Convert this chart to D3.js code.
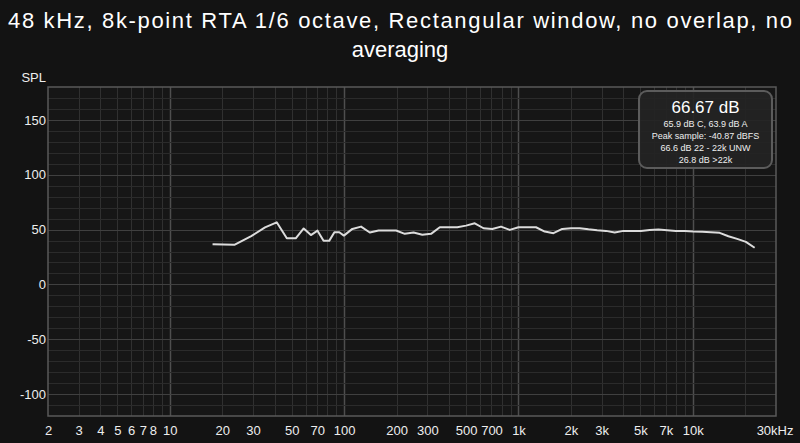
<!DOCTYPE html>
<html><head><meta charset="utf-8">
<script src="https://cdn.jsdelivr.net/npm/d3@7"></script>
<style>html,body{margin:0;padding:0;background:#131313;}svg{display:block;}</style>
</head><body><svg id="c" width="800" height="443"></svg>
<script>
const freqs = [17.58,23.44,29.30,35.16,41.02,46.88,52.73,58.59,64.45,70.31,76.17,82.03,87.89,93.75,99.61,
  111.4,125,140.3,157.5,176.8,198.4,222.7,250,280.6,315,353.6,396.9,445.4,500,561.2,630,707.1,793.7,890.9,
  1000,1122,1260,1414,1587,1782,2000,2245,2520,2828,3175,3564,4000,4490,5040,5657,6350,7127,8000,8980,
  10079,11314,12699,14254,16000,17959,20159,22627];
const spl = [36.6,36.1,44,52,56.6,42,42,51,45,49,39.7,39.7,47.5,47.5,44.5,
  50.6,52.7,47.3,49.1,49.1,49.1,46.1,47.3,45.2,46.1,52.1,52.1,52.1,53.6,55.7,51.2,50.6,52.7,49.7,
  52.1,52.1,52.1,48.2,46.7,50.6,51.2,51.2,50.2,49.4,48.8,47.3,48.8,48.8,48.8,49.7,50,49.4,48.8,48.8,
  48.2,47.9,47.5,47,43.9,41.5,38.8,33.4];
const xTickValues = [2,3,4,5,6,7,8,10,20,30,50,70,100,200,300,500,700,1000,2000,3000,5000,7000,10000,30000];
const xTickLabels = ["2","3","4","5","6","7","8","10","20","30","50","70","100","200","300","500","700","1k","2k","3k","5k","7k","10k","30kHz"];
const yTickValues = [150,100,50,0,-50,-100];
const titleLines = ["48 kHz, 8k-point RTA 1/6 octave, Rectangular window, no overlap, no","averaging"];
const infoLines = ["65.9 dB C, 63.9 dB A","Peak sample: -40.87 dBFS","66.6 dB 22 - 22k UNW","26.8 dB >22k"];
const infoMain = "66.67 dB";

const svg = d3.select("#c");
const font = "'Liberation Sans', Arial, Helvetica, sans-serif";
const L=48, R=776, T=87, B=416;
const x = d3.scaleLog().domain([2,30000]).range([L,R]);
const y = d3.scaleLinear().domain([-120,180]).range([B,T]);

svg.append("rect").attr("width",800).attr("height",443).attr("fill","#131313");
svg.append("rect").attr("x",L).attr("y",T).attr("width",R-L).attr("height",B-T).attr("fill","#161616");

// grid
const minorX = [];
for (let d=1; d<=10000; d*=10) for (let m=1; m<=9; m++) { const v=d*m; if (v>2 && v<30000) minorX.push(v); }
const g = svg.append("g");
g.selectAll(".vx").data(minorX).join("line")
  .attr("x1",d=>Math.round(x(d))+0.5).attr("x2",d=>Math.round(x(d))+0.5).attr("y1",T).attr("y2",B)
  .attr("stroke",d=>[10,100,1000,10000].includes(d)?"#4e4e4e":"#303030").attr("stroke-width",d=>[10,100,1000,10000].includes(d)?1.5:1);
const hy = d3.range(-110,180,10);
g.selectAll(".hy").data(hy).join("line")
  .attr("x1",L).attr("x2",R).attr("y1",d=>Math.round(y(d))+0.5).attr("y2",d=>Math.round(y(d))+0.5)
  .attr("stroke",d=>d%50===0?"#404040":"#2b2b2b").attr("stroke-width",1);
svg.append("rect").attr("x",L).attr("y",T).attr("width",R-L).attr("height",B-T)
  .attr("fill","none").attr("stroke","#5a5a5a").attr("stroke-width",1.5);

// axes
const xAxis = d3.axisBottom(x).tickValues(xTickValues).tickFormat((d,i)=>xTickLabels[i]).tickSize(0).tickPadding(0);
const xa = svg.append("g").attr("transform",`translate(0,${B})`).call(xAxis);
xa.select(".domain").remove();
xa.selectAll("text").attr("fill","#eee").attr("font-size",13).attr("font-family",font).attr("dy",null).attr("y",19);
xa.selectAll(".tick").filter(d=>d===30000).select("text").attr("text-anchor","end").attr("x",17);

const yAxis = d3.axisLeft(y).tickValues(yTickValues).tickFormat(d=>String(d)).tickSize(0).tickPadding(2);
const ya = svg.append("g").attr("transform",`translate(${L},0)`).call(yAxis);
ya.select(".domain").remove();
ya.selectAll("text").attr("fill","#eee").attr("font-size",13).attr("font-family",font);
svg.append("text").attr("x",46).attr("y",82).attr("text-anchor","end").attr("fill","#eee")
  .attr("font-size",13).attr("font-family",font).text("SPL");

// title
svg.selectAll(".title").data(titleLines).join("text")
  .attr("x",400).attr("y",(d,i)=>28+i*29).attr("text-anchor","middle").attr("fill","#fff")
  .attr("font-size",22).attr("font-family",font)
  .each(function(d,i){ if(i===0) d3.select(this).attr("textLength",784).attr("lengthAdjust","spacing"); })
  .text(d=>d);

// line
const data = freqs.map((f,i)=>[f,spl[i]]);
svg.append("path").datum(data).attr("fill","none").attr("stroke","#dcdcdc").attr("stroke-width",2)
  .attr("stroke-linejoin","round")
  .attr("d",d3.line().x(d=>x(d[0])).y(d=>y(d[1])));

// info box
const bx=639, by=91, bw=133, bh=77;
svg.append("rect").attr("x",bx).attr("y",by).attr("width",bw).attr("height",bh).attr("rx",8)
  .attr("fill","#242424").attr("fill-opacity",0.92).attr("stroke","#5c5c5c").attr("stroke-width",2);
svg.append("text").attr("x",bx+bw/2).attr("y",113).attr("text-anchor","middle").attr("fill","#fff")
  .attr("font-size",17).attr("font-family",font).text(infoMain);
svg.selectAll(".info").data(infoLines).join("text")
  .attr("x",bx+bw/2).attr("y",(d,i)=>127+i*12).attr("text-anchor","middle").attr("fill","#eee")
  .attr("font-size",9).attr("font-family",font).text(d=>d);
</script></body></html>
